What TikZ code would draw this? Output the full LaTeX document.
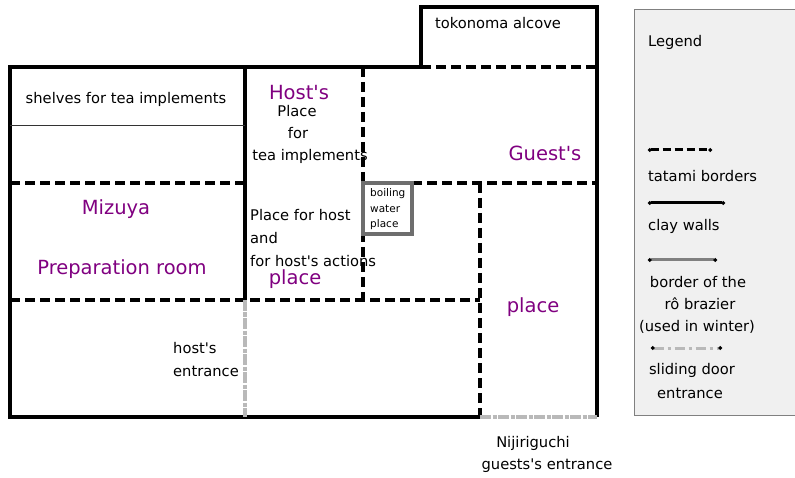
\documentclass[tikz,border=0pt]{standalone}
\usepackage{fontspec}
\setmainfont{DejaVu Sans}
\usepackage{xcolor}
\usepackage{tikz}
\usetikzlibrary{arrows.meta}

\definecolor{roomtext}{RGB}{128,0,128}
\definecolor{brazier}{RGB}{110,110,110}
\definecolor{slide}{RGB}{185,185,185}
\definecolor{legendbg}{RGB}{240,240,240}
\newcommand{\q}{\textquotesingle}

\begin{document}
\begin{tikzpicture}[x=1pt,y=-1pt,line join=miter,
  font=\fontsize{14.7}{17}\selectfont]
  \tikzstyle{wall}=[draw=black,line width=4pt]
  \tikzstyle{tatami}=[draw=black,line width=3.5pt,dash pattern=on 10pt off 5pt]
  \tikzstyle{ro}=[draw=brazier,line width=4pt]
  \tikzstyle{door}=[draw=slide,line width=4pt,dash pattern=on 11pt off 1.5pt on 4pt off 1.5pt]
  \tikzstyle{room}=[text=roomtext,font=\fontsize{19.5}{22}\selectfont]
  \tikzstyle{small}=[font=\fontsize{10.5}{12}\selectfont,anchor=west,inner sep=0pt]
  \tikzstyle{line}=[anchor=west,inner sep=0pt]
  \tikzstyle{dots}=[{Circle[length=3.5pt,color=black]}-{Circle[length=3.5pt,color=black]}]

  \useasboundingbox (0,0) rectangle (795,478);

  % Legend panel
  \draw[fill=legendbg,draw=gray,line width=1pt] (634,10) rectangle (800,415);

  % Tatami borders
  \draw[tatami] (421,67) -- (597,67);
  \draw[tatami] (10,183) -- (245,183);
  \draw[tatami] (363,67) -- (363,300);
  \draw[tatami] (412,183) -- (597,183);
  \draw[tatami] (480,183) -- (480,417);
  \draw[tatami] (10,300) -- (480,300);

  % Clay walls
  \draw[wall] (480,417) -- (10,417) -- (10,67) -- (421,67) -- (421,7) -- (597,7) -- (597,417);
  \draw[wall] (245,67) -- (245,300);
  \draw[black!80,line width=0.8pt] (10,125) -- (245,125);   % shelves

  % Ro brazier and sliding doors
  \draw[ro] (363,183) rectangle (412,234);
  \draw[door] (245,300) -- (245,417);
  \draw[door] (480,417) -- (597,417);

  % Nodes
  \node (toko) at (498,23) {tokonoma alcove};
  \node (shelf) at (126,99) {shelves for tea implements};
  \node[room] (host) at (299,93) {Host\q s};
  \node (hp1) at (297,111) {Place};
  \node (hp2) at (298,133) {for};
  \node (hp3) at (310,156) {tea implements};
  \node[room] (guest) at (545,153) {Guest\q s};
  \node[room] (mizuya) at (116,209) {Mizuya};
  \node[room] (prep) at (122,269) {Preparation room};
  \node[line] (ha1) at (250,215) {Place for host};
  \node[line] (ha2) at (250,238) {and};
  \node[line] (ha3) at (250,261) {for host\q s actions};
  \node[room] (hplace) at (295,279) {place};
  \node[small] (bw1) at (370,194) {boiling};
  \node[small] (bw2) at (370,209) {water};
  \node[small] (bw3) at (370,225) {place};
  \node[room] (gplace) at (533,307) {place};
  \node[line] (he1) at (173,348) {host\q s};
  \node[line] (he2) at (173,371) {entrance};
  \node (niji) at (533,443) {Nijiriguchi};
  \node (gent) at (547,466) {guests\q s entrance};

  % Legend
  \node[line] (leg) at (648,42) {Legend};
  \draw[tatami,line width=3pt,dash pattern=on 8pt off 4pt,dots] (648,150) -- (712,150);
  \node[line] (lt) at (648,176) {tatami borders};
  \draw[wall,line width=3pt,dots] (648,203) -- (725,203);
  \node[line] (lw) at (648,226) {clay walls};
  \draw[draw=gray,line width=3pt,dots] (648,260) -- (717,260);
  \node (lr1) at (698,282) {border of the};
  \node (lr2) at (700,304) {rô brazier};
  \node (lr3) at (697,327) {(used in winter)};
  \draw[door,line width=3pt,dash pattern=on 10pt off 4pt on 3pt off 4pt,dots] (651,348) -- (722,348);
  \node (ls1) at (692,370) {sliding door};
  \node (ls2) at (690,393) {entrance};
\end{tikzpicture}
\end{document}
